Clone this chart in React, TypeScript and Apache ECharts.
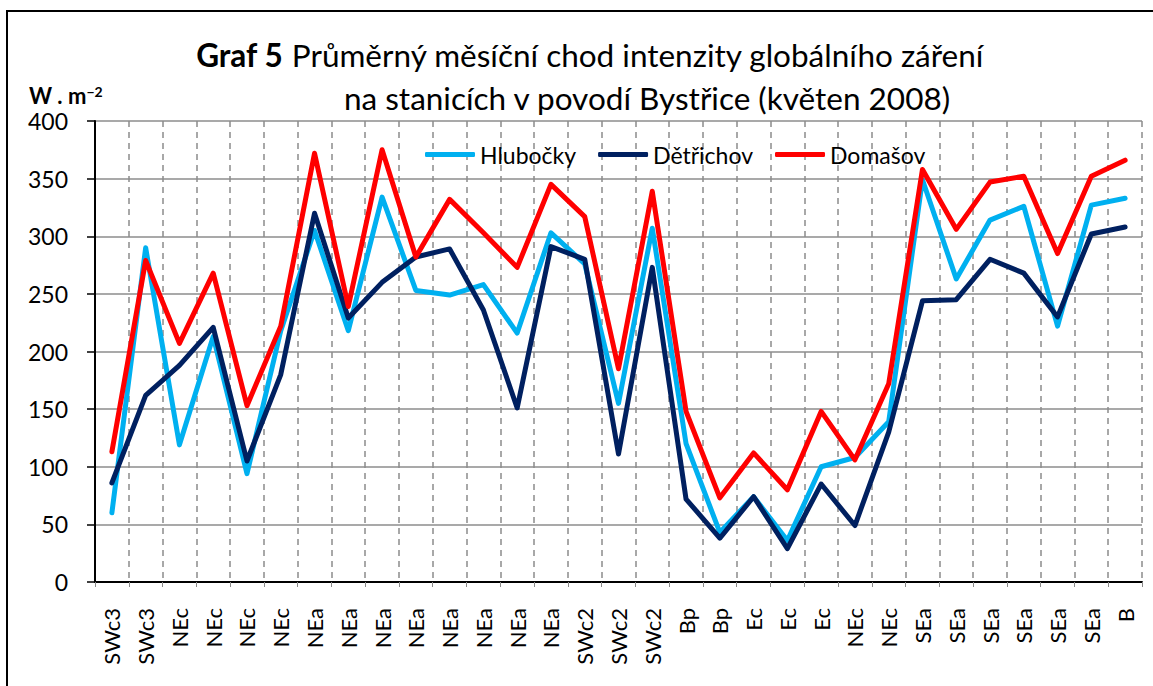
import React, { useEffect, useRef } from "react";
import * as echarts from "echarts";

const categories = [
  "SWc3", "SWc3", "NEc", "NEc", "NEc", "NEc", "NEa", "NEa", "NEa", "NEa", "NEa",
  "NEa", "NEa", "NEa", "SWc2", "SWc2", "SWc2", "Bp", "Bp", "Ec", "Ec", "Ec",
  "NEc", "NEc", "SEa", "SEa", "SEa", "SEa", "SEa", "SEa", "B",
];

const hlubocky = [
  60, 290, 119, 213, 94, 218, 305, 218, 334, 253, 249, 258, 216, 303, 276, 155,
  307, 120, 43, 74, 36, 100, 108, 139, 349, 263, 314, 326, 222, 327, 333,
];

const detrichov = [
  86, 162, 188, 221, 105, 180, 320, 229, 260, 282, 289, 236, 151, 291, 280, 111,
  273, 72, 38, 74, 29, 85, 49, 130, 244, 245, 280, 268, 230, 302, 308,
];

const domasov = [
  113, 279, 207, 268, 153, 222, 372, 239, 375, 282, 332, 303, 273, 345, 317, 185,
  339, 148, 73, 112, 80, 148, 106, 172, 358, 306, 347, 352, 285, 352, 366,
];

const seriesNames = ["Hlubočky", "Dětřichov", "Domašov"];
const seriesColors = ["#00B0F0", "#002060", "#FF0000"];

const FONT = "Lato, 'Open Sans', sans-serif";

export default function App() {
  const ref = useRef<HTMLDivElement>(null);

  useEffect(() => {
    document.body.style.margin = "0";
    if (!ref.current) return;
    const chart = echarts.init(ref.current, null, { renderer: "svg" });
    const values = [hlubocky, detrichov, domasov];
    chart.setOption({
      animation: false,
      backgroundColor: "#ffffff",
      textStyle: { fontFamily: FONT },
      title: [
        {
          text: "{b|Graf 5} Průměrný měsíční chod intenzity globálního záření",
          left: 585,
          top: 34,
          textAlign: "center",
          textStyle: {
            fontFamily: FONT,
            fontSize: 31.5,
            fontWeight: "normal",
            color: "#000",
            rich: {
              b: { fontFamily: FONT, fontSize: 31.5, fontWeight: "bold", color: "#000" },
            },
          },
        },
        {
          text: "na stanicích v povodí Bystřice (květen 2008)",
          left: 642,
          top: 77,
          textAlign: "center",
          textStyle: { fontFamily: FONT, fontSize: 31.5, fontWeight: "normal", color: "#000" },
        },
      ],
      graphic: [
        {
          type: "rect",
          shape: { x: 7, y: 11, width: 1160, height: 700 },
          style: { fill: "none", stroke: "#000", lineWidth: 2 },
          silent: true,
        },
        {
          type: "text",
          left: 29,
          top: 84,
          style: {
            text: "{a|W . m}{s|−2}",
            fontFamily: FONT,
            fontSize: 22,
            fontWeight: "bold",
            fill: "#000",
            rich: {
              a: { fontFamily: FONT, fontSize: 22, fontWeight: "bold", fill: "#000", verticalAlign: "bottom" },
              s: { fontFamily: FONT, fontSize: 14, fontWeight: "bold", fill: "#000", verticalAlign: "top" },
            },
          },
        },
      ],
      legend: {
        data: seriesNames,
        left: 420,
        top: 138,
        icon: "roundRect",
        itemWidth: 50,
        itemHeight: 5,
        itemGap: 22,
        textStyle: { fontFamily: FONT, fontSize: 23, color: "#000" },
      },
      grid: { left: 95, right: 11, top: 121, bottom: 104, containLabel: false },
      xAxis: {
        type: "category",
        data: categories,
        boundaryGap: true,
        axisLine: { show: true, lineStyle: { color: "#000", width: 2 } },
        axisTick: {
          show: true,
          interval: 0,
          length: 5,
          lineStyle: { color: "#888", width: 1 },
        },
        axisLabel: {
          interval: 0,
          rotate: 90,
          margin: 26,
          fontFamily: FONT,
          fontSize: 22,
          color: "#000",
        },
        splitLine: {
          show: true,
          interval: 0,
          lineStyle: { color: "#8c8c8c", width: 1.5, type: [6, 5] },
        },
      },
      yAxis: {
        type: "value",
        min: 0,
        max: 400,
        interval: 50,
        axisLine: { show: true, lineStyle: { color: "#000", width: 2 } },
        axisTick: { show: true, length: 8, lineStyle: { color: "#000", width: 1.5 } },
        axisLabel: { margin: 27, fontFamily: FONT, fontSize: 23, color: "#000" },
        splitLine: { show: true, lineStyle: { color: "#8c8c8c", width: 1.5 } },
      },
      series: seriesNames.map((name, i) => ({
        name,
        type: "line",
        data: values[i],
        symbol: "none",
        showSymbol: false,
        itemStyle: { color: seriesColors[i] },
        lineStyle: { color: seriesColors[i], width: 5, cap: "round", join: "round" },
      })),
    });
    return () => chart.dispose();
  }, []);

  return <div ref={ref} style={{ width: 1153, height: 686 }} />;
}
